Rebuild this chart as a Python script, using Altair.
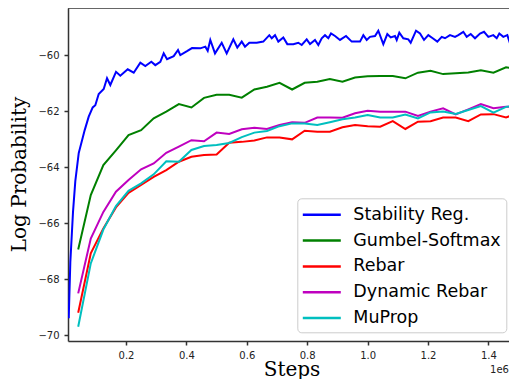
import altair as alt
import pandas as pd

series_names = ["Stability Reg.", "Gumbel-Softmax", "Rebar", "Dynamic Rebar", "MuProp"]
series_colors = ["#0000ff", "#008000", "#ff0000", "#bf00bf", "#00bfbf"]

stab_steps = [10300, 15600, 24500, 32100, 43400, 56600, 63200, 76500, 89700, 98300,
              109600, 126200, 137100, 148000, 166900, 181100, 205600, 225500, 247400, 263900,
              283800, 297000, 313600, 324800, 335800, 357900, 372200, 379800, 402000, 418500,
              446000, 462600, 470500, 479100, 494700, 516900, 533400, 555300, 568500, 583100,
              594000, 608300, 632800, 654600, 674500, 682500, 693400, 704300, 720900, 734100,
              754000, 770500, 781800, 798300, 809300, 825800, 836800, 848000, 858900, 869900,
              878800, 892100, 908600, 928500, 947400, 958300, 974800, 985800, 997000, 1007900,
              1024500, 1035400, 1052000, 1065200, 1076500, 1090700, 1096400, 1105000, 1118200, 1134800,
              1142700, 1160300, 1173500, 1186800, 1201000, 1215600, 1230800, 1245400, 1256300, 1272800,
              1289400, 1300300, 1316900, 1328100, 1341400, 1355600, 1372200, 1385400, 1399700, 1416200,
              1427500, 1436100, 1449300, 1462600, 1471500, 1482500, 1493700]
stab_vals = [-69.4, -67.4, -65.6, -64.5, -63.5, -62.95, -62.68, -62.2, -61.87, -61.79,
             -61.39, -61.21, -60.83, -61.07, -60.6, -60.74, -60.51, -60.63, -60.27, -60.39,
             -60.24, -60.36, -60.24, -59.94, -60.15, -60.04, -59.82, -60.0, -59.86, -59.75,
             -59.76, -59.70, -59.85, -59.46, -59.94, -59.56, -59.94, -59.44, -59.73, -59.52,
             -59.70, -59.56, -59.56, -59.52, -59.29, -59.40, -59.29, -59.52, -59.37, -59.61,
             -59.61, -59.56, -59.64, -59.44, -59.61, -59.46, -59.64, -59.40, -59.29, -59.40,
             -59.23, -59.32, -59.46, -59.32, -59.52, -59.52, -59.52, -59.29, -59.46, -59.35,
             -59.32, -59.13, -59.61, -59.25, -59.37, -59.32, -59.46, -59.20, -59.40, -59.44,
             -59.56, -59.13, -59.23, -59.46, -59.29, -59.40, -59.52, -59.35, -59.40, -59.29,
             -59.35, -59.29, -59.17, -59.35, -59.25, -59.40, -59.23, -59.17, -59.35, -59.29,
             -59.40, -59.23, -59.35, -59.29, -59.58, -59.46, -59.52]

eval_steps = [41667, 83333, 125000, 166667, 208333, 250000, 291667, 333333, 375000, 416667,
              458333, 500000, 541667, 583333, 625000, 666667, 708333, 750000, 791667, 833333,
              875000, 916667, 958333, 1000000, 1041667, 1083333, 1125000, 1166667, 1208333, 1250000,
              1291667, 1333333, 1375000, 1416667, 1458333, 1500000]
gumbel_vals = [-66.94, -65.0, -63.93, -63.4, -62.86, -62.68, -62.26, -62.02, -61.75, -61.87,
               -61.53, -61.42, -61.42, -61.52, -61.23, -61.13, -60.99, -61.23, -60.99, -60.95,
               -60.86, -60.95, -60.80, -60.76, -60.75, -60.75, -60.83, -60.63, -60.56, -60.68,
               -60.65, -60.62, -60.54, -60.63, -60.44, -60.51]
rebar_vals = [-69.2, -67.08, -66.19, -65.44, -64.92, -64.64, -64.35, -64.11, -63.81, -63.63,
              -63.57, -63.55, -63.13, -63.10, -63.05, -62.94, -62.94, -63.01, -62.70, -62.74,
              -62.74, -62.58, -62.50, -62.54, -62.56, -62.36, -62.64, -62.38, -62.36, -62.23,
              -62.23, -62.36, -62.12, -62.11, -62.23, -62.06]
dynrebar_vals = [-68.51, -66.55, -65.6, -64.88, -64.46, -64.08, -63.87, -63.49, -63.27, -63.04,
                 -63.08, -62.77, -62.82, -62.65, -62.6, -62.64, -62.5, -62.4, -62.42, -62.23,
                 -62.23, -62.24, -62.08, -61.99, -62.02, -62.02, -62.02, -62.17, -62.02, -61.9,
                 -62.12, -61.94, -61.75, -61.9, -61.85, -61.82]
muprop_vals = [-69.7, -67.44, -66.23, -65.39, -64.85, -64.58, -64.26, -63.79, -63.81, -63.39,
               -63.25, -63.21, -63.14, -62.93, -62.77, -62.71, -62.54, -62.44, -62.44, -62.5,
               -62.4, -62.29, -62.23, -62.14, -62.23, -62.23, -62.12, -62.26, -62.05, -62.02,
               -62.1, -61.96, -61.82, -62.06, -61.85, -61.81]

x_ticks = [200000, 400000, 600000, 800000, 1000000, 1200000, 1400000]
y_ticks = [-70, -68, -66, -64, -62, -60]

rows = []
for s, v in zip(stab_steps, stab_vals):
    rows.append({"steps": s, "logp": v, "method": "Stability Reg."})
for name, vals in [("Gumbel-Softmax", gumbel_vals), ("Rebar", rebar_vals),
                   ("Dynamic Rebar", dynrebar_vals), ("MuProp", muprop_vals)]:
    for s, v in zip(eval_steps, vals):
        rows.append({"steps": s, "logp": v, "method": name})
df = pd.DataFrame(rows)
df["order"] = df["method"].map({n: i for i, n in enumerate(series_names)})

W, H = 441, 333

lines = alt.Chart(df).mark_line(strokeWidth=2, clip=True).encode(
    x=alt.X("steps:Q",
            scale=alt.Scale(domain=[7900, 1468165], nice=False, zero=False),
            axis=alt.Axis(values=x_ticks, labelExpr="format(datum.value / 1000000, '.1f')",
                          title="Steps", titleFont="DejaVu Serif", titleFontSize=20,
                          titleFontWeight="normal", titleColor="#000",
                          titleBaseline="alphabetic", titleX=223.5, titleY=34,
                          labelFont="DejaVu Sans", labelFontSize=10, labelColor="#222",
                          labelPadding=5, tickSize=4, tickWidth=1.5, tickColor="#333",
                          domainColor="#333", domainWidth=1.5, grid=False)),
    y=alt.Y("logp:Q",
            scale=alt.Scale(domain=[-70.21, -58.32], nice=False, zero=False),
            axis=alt.Axis(values=y_ticks, format="d",
                          title="Log Probability", titleFont="DejaVu Serif", titleFontSize=20,
                          titleFontWeight="normal", titleColor="#000",
                          titleBaseline="alphabetic", titleAngle=270, titleAlign="center",
                          titleX=-43, titleY=166,
                          labelFont="DejaVu Sans", labelFontSize=10, labelColor="#222",
                          labelPadding=5, tickSize=4, tickWidth=1.5, tickColor="#333",
                          domainColor="#333", domainWidth=1.5, grid=False)),
    color=alt.Color("method:N",
                    scale=alt.Scale(domain=series_names, range=series_colors),
                    legend=alt.Legend(title=None, orient="none", legendX=229.3, legendY=190.3,
                                      symbolType="M-1.9,0H1.9", symbolSize=400,
                                      symbolStrokeWidth=2.5, symbolOffset=8,
                                      labelOffset=20, labelFont="DejaVu Sans",
                                      labelFontSize=17.5, labelColor="#000",
                                      rowPadding=5.8, padding=5, cornerRadius=4,
                                      strokeColor="#cccccc", fillColor="rgba(255,255,255,0.85)",
                                      labelLimit=300)),
    order="order:Q",
    detail="method:N",
)

top_frame = alt.Chart(pd.DataFrame({"a": [0]})).mark_rule(color="#333", strokeWidth=1.5).encode(
    x=alt.value(0), x2=alt.value(W), y=alt.value(0)
)

offset_text = alt.Chart(pd.DataFrame({"t": ["1e6"]})).mark_text(
    font="DejaVu Sans", fontSize=10, color="#222", align="right", baseline="middle"
).encode(x=alt.value(W), y=alt.value(362), text="t:N")

chart = alt.layer(lines, top_frame, offset_text).properties(
    width=W, height=H,
    padding={"left": 60, "top": 0, "right": 0, "bottom": 38},
    autosize=alt.AutoSizeParams(type="none"),
).configure_view(stroke=None)

chart.save("out.html", embed_options={"renderer": "svg", "actions": False})
